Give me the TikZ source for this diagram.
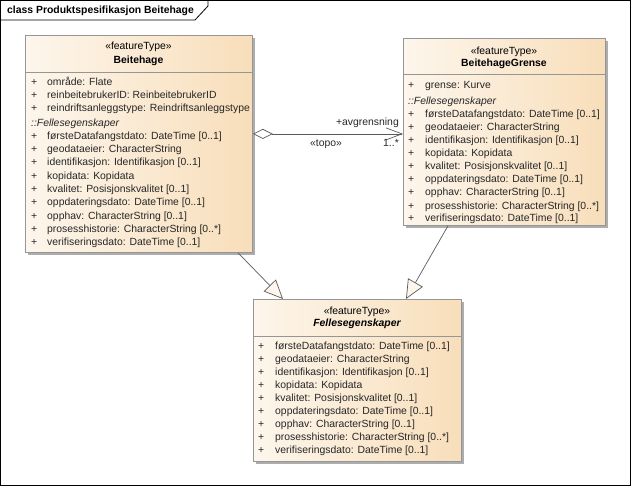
\documentclass[tikz,border=0pt]{standalone}
\usepackage{fontspec}
\setmainfont{Liberation Sans}
\usetikzlibrary{arrows.meta,shadows}
\definecolor{boxleft}{RGB}{253,246,236}
\definecolor{boxright}{RGB}{248,222,186}
\definecolor{boxline}{RGB}{150,150,150}
\definecolor{linkline}{RGB}{90,90,90}
\tikzset{
  classbox/.style={draw=boxline, line width=0.8pt, left color=boxleft, right color=boxright,
    anchor=north west, inner sep=0pt,
    drop shadow={shadow xshift=3pt, shadow yshift=-3pt, fill=black!32, opacity=1}},
  stereo/.style={font=\fontsize{10.4}{12}\selectfont, anchor=mid},
  title/.style={font=\fontsize{10.4}{12}\selectfont\bfseries, anchor=mid},
  attr/.style={font=\fontsize{10.4}{12}\selectfont, anchor=mid west, inner sep=0pt, text=black!85},
  sep/.style={draw=boxline, line width=0.8pt},
  assoc/.style={draw=linkline, line width=0.7pt,
    {Diamond[open, length=20pt, width=10pt, fill=white]}-{Straight Barb[length=16pt, width=12pt]}},
  gen/.style={draw=linkline, line width=0.7pt,
    -{Triangle[open, length=19pt, width=17pt, fill=boxleft]}},
}
\begin{document}
\begin{tikzpicture}[x=1pt, y=-1pt]
    \useasboundingbox (0,0) rectangle (631,487);
    % frame
    \draw[line width=0.8pt] (0.5,0.5) rectangle (630,485.5);
    \draw[line width=0.8pt] (0.5,20) -- (195,20) -- (208,6) -- (208,0.5);
    \node[font=\fontsize{10.4}{12}\selectfont\bfseries, anchor=mid west, inner sep=0pt] (frametitle) at (7,11) {class Produktspesifikasjon Beitehage};

    % class boxes
    \node[classbox, minimum width=227pt, minimum height=217pt] (beitehage) at (25,35) {};
    \node[classbox, minimum width=202pt, minimum height=187pt] (grense) at (403,38) {};
    \node[classbox, minimum width=208pt, minimum height=162pt] (felles) at (253,299) {};

    % Beitehage
    \node[stereo] (bhstereo) at (138.5,47) {«featureType»};
    \node[title] (bhtitle) at (138.5,61) {Beitehage};
    \draw[sep] (25,72) -- (252,72);
    \foreach \y/\txt in {83/område: Flate, 96/reinbeitebrukerID: ReinbeitebrukerID,
        109/reindriftsanleggstype: Reindriftsanleggstype,
        137/førsteDatafangstdato: DateTime [0..1], 150/geodataeier: CharacterString,
        163/identifikasjon: Identifikasjon [0..1], 177/kopidata: Kopidata,
        190/kvalitet: Posisjonskvalitet [0..1], 203/oppdateringsdato: DateTime [0..1],
        217/opphav: CharacterString [0..1], 230/prosesshistorie: CharacterString [0..*],
        243/verifiseringsdato: DateTime [0..1]}{
      \node[attr] at (31,\y) {+};
      \node[attr] at (47,\y) {\txt};
    }
    \node[attr] (bhinherit) at (31,124) {\itshape ::Fellesegenskaper};

    % BeitehageGrense
    \node[stereo] (grstereo) at (504,52) {«featureType»};
    \node[title] (grtitle) at (504,64) {BeitehageGrense};
    \draw[sep] (403,74) -- (605,74);
    \foreach \y/\txt in {86/grense: Kurve,
        115/førsteDatafangstdato: DateTime [0..1], 128/geodataeier: CharacterString,
        141/identifikasjon: Identifikasjon [0..1], 154/kopidata: Kopidata,
        167/kvalitet: Posisjonskvalitet [0..1], 180/oppdateringsdato: DateTime [0..1],
        193/opphav: CharacterString [0..1], 207/prosesshistorie: CharacterString [0..*],
        219/verifiseringsdato: DateTime [0..1]}{
      \node[attr] at (408,\y) {+};
      \node[attr] at (425,\y) {\txt};
    }
    \node[attr] (grinherit) at (408,102) {\itshape ::Fellesegenskaper};

    % Fellesegenskaper
    \node[stereo] (festereo) at (357,312) {«featureType»};
    \node[title, font=\fontsize{10.4}{12}\selectfont\bfseries\itshape] (fetitle) at (357,324) {Fellesegenskaper};
    \draw[sep] (253,336) -- (461,336);
    \foreach \y/\txt in {347/førsteDatafangstdato: DateTime [0..1], 360/geodataeier: CharacterString,
        373/identifikasjon: Identifikasjon [0..1], 386/kopidata: Kopidata,
        399/kvalitet: Posisjonskvalitet [0..1], 412/oppdateringsdato: DateTime [0..1],
        425/opphav: CharacterString [0..1], 438/prosesshistorie: CharacterString [0..*],
        451/verifiseringsdato: DateTime [0..1]}{
      \node[attr] at (258,\y) {+};
      \node[attr] at (275,\y) {\txt};
    }

    % association
    \coordinate (assocend) at ([yshift=-2pt]grense.west);
    \draw[assoc] (beitehage.east |- assocend) -- (assocend);
    \node[attr, anchor=mid east] (role) at (399,123) {+avgrensning};
    \node[attr, anchor=mid] (topo) at (326,144) {«topo»};
    \node[attr, anchor=mid east] (mult) at (399,144) {1..*};

    % generalizations
    \draw[gen] ([xshift=213pt]beitehage.south west) -- ([xshift=30pt]felles.north west);
    \draw[gen] ([xshift=45pt]grense.south west) -- ([xshift=153pt]felles.north west);
\end{tikzpicture}
\end{document}
